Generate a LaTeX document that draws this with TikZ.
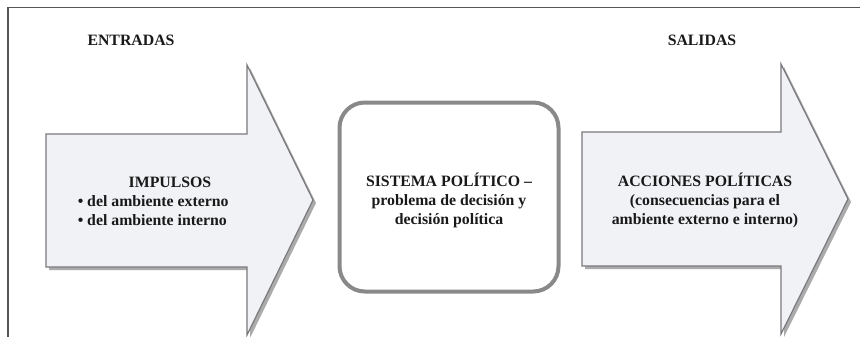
\documentclass[tikz,border=0pt]{standalone}
\usepackage{fontspec}
\setmainfont{Liberation Serif}[BoldFont={Liberation Serif Bold}]
\begin{document}
\begin{tikzpicture}[x=0.75pt,y=-0.75pt,
  txt/.style={font=\bfseries\fontsize{11.85pt}{14.6pt}\selectfont, inner sep=0pt, text=black!90},
  arrowfill/.style={fill=arrowbg, draw=arrowline, line width=0.9pt, line join=miter},
  arrowshadow/.style={fill=shadowgray, draw=none},
  sysbox/.style={draw=boxline, line width=3pt, rounded corners=19pt, inner sep=0pt,
    minimum width=164.25pt, minimum height=141.75pt}]
\definecolor{arrowbg}{HTML}{F1F2F5}
\definecolor{arrowline}{HTML}{7A7A7E}
\definecolor{shadowgray}{HTML}{ABABAB}
\definecolor{boxline}{HTML}{898989}
\definecolor{frameline}{HTML}{555555}
\useasboundingbox (0,0) rectangle (860,336);
% outer frame
\draw[frameline, line width=1.1pt] (8,340) -- (8,7.5) -- (865,7.5);
% left arrow
\path[arrowshadow] (49,137) -- (250,137) -- (250,68) -- (316,203) -- (250,338) -- (250,270) -- (49,270) -- cycle;
\path[arrowfill] (46,134) -- (247,134) -- (247,65) -- (313,200) -- (247,335) -- (247,267) -- (46,267) -- cycle;
% right arrow
\path[arrowshadow] (585,135) -- (784,135) -- (784,67) -- (851,202) -- (784,337) -- (784,269) -- (585,269) -- cycle;
\path[arrowfill] (582,132) -- (781,132) -- (781,64) -- (848,199) -- (781,334) -- (781,266) -- (582,266) -- cycle;
% central box
\node[sysbox] (sys) at (449,197) {};
% texts
\node[txt, anchor=base] (ent) at (131,45) {ENTRADAS};
\node[txt, anchor=base] (sal) at (702,45) {SALIDAS};
\node[txt, anchor=base] (imp1) at (170,187) {IMPULSOS};
\node[txt, anchor=base west] (imp2) at (77.5,206) {\textbullet\ del ambiente externo};
\node[txt, anchor=base west] (imp3) at (77.5,225) {\textbullet\ del ambiente interno};
\node[txt, anchor=base] (sys1) at (449,186) {SISTEMA POLÍTICO –};
\node[txt, anchor=base] (sys2) at (449,205) {problema de decisión y};
\node[txt, anchor=base] (sys3) at (449,224) {decisión política};
\node[txt, anchor=base] (acc1) at (705,186) {ACCIONES POLÍTICAS};
\node[txt, anchor=base] (acc2) at (705,205) {(consecuencias para el};
\node[txt, anchor=base] (acc3) at (705,224) {ambiente externo e interno)};
\end{tikzpicture}
\end{document}
